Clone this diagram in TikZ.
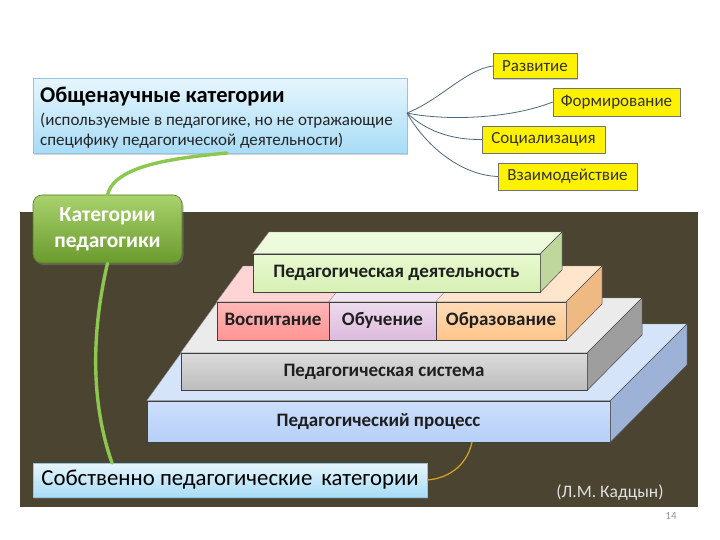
\documentclass[tikz,border=0pt]{standalone}
\usepackage{fontspec}
\setmainfont{Carlito}
\usetikzlibrary{shadows}
\definecolor{bgdark}{HTML}{4B4431}
\definecolor{skytop}{HTML}{E6F6FD}
\definecolor{skybot}{HTML}{A8DCF6}
\definecolor{skyline}{HTML}{94C4DE}
\definecolor{leaftop}{HTML}{A9D26C}
\definecolor{leafbot}{HTML}{6A9A2E}
\definecolor{leafline}{HTML}{8CC850}
\definecolor{fanline}{HTML}{4E687C}
\definecolor{goldline}{HTML}{D9A521}
\definecolor{procfront}{HTML}{B6D0F8}
\definecolor{procfrontt}{HTML}{CCDEFC}
\definecolor{proctop}{HTML}{D6E4FA}
\definecolor{procside}{HTML}{9DB2D6}
\definecolor{deyfront}{HTML}{D6F0B4}
\definecolor{deyfrontt}{HTML}{E8F9D0}
\definecolor{deytop}{HTML}{EEFADC}
\definecolor{deyside}{HTML}{BFD79C}
\begin{document}
\begin{tikzpicture}[x=1pt,y=-1pt,
  sky/.style={draw=skyline, line width=0.6pt, top color=skytop, bottom color=skybot,
    drop shadow={shadow xshift=1pt, shadow yshift=-1.5pt, opacity=0.35}},
  leafbox/.style={draw=leafbot!80!black, line width=0.6pt, rounded corners=9pt,
    top color=leaftop, bottom color=leafbot, text=white,
    font=\bfseries\fontsize{21.5}{28}\selectfont, align=center,
    drop shadow={shadow xshift=1.5pt, shadow yshift=-2pt, opacity=0.5}},
  yel/.style={draw=black!55, line width=0.5pt, fill=yellow, minimum height=27pt,
    inner sep=0pt, text=black!80, font=\fontsize{17}{18}\selectfont,
    drop shadow={shadow xshift=1.2pt, shadow yshift=-1.5pt, opacity=0.4}},
  fan/.style={draw=fanline, line width=0.8pt},
  leafwire/.style={draw=leafline, line width=3.4pt, line cap=round},
  front/.style={draw=black!75, line width=0.6pt, inner sep=0pt,
    text height=13pt, text depth=4pt,
    font=\bfseries\fontsize{19}{21}\selectfont, text=black!88},
  facetop/.style={fill=#1, draw=black!45, line width=0.4pt, line join=round},
  faceside/.style={fill=#1, draw=black!70, line width=0.5pt, line join=round}
]
\useasboundingbox (0,0) rectangle (720,540);
\fill[white] (0,0) rectangle (720,540);
% dark panel
\fill[bgdark] (20,212) rectangle (698,507);

% ---------- pyramid: process ----------
\node[front, top color=procfrontt, bottom color=procfront,
  minimum width=463pt, minimum height=41pt] (proc) at (378.5,421.5) {Педагогический процесс};
\path[facetop=proctop] (proc.north west) -- (proc.north east) -- (687,324) -- (202,324) -- cycle;
\path[faceside=procside] (proc.north east) -- (687,324) -- (687,365) -- (proc.south east) -- cycle;

% ---------- system ----------
\node[front, top color=black!14, bottom color=black!26,
  minimum width=406pt, minimum height=37pt] (sys) at (384,371.5) {Педагогическая система};
\path[facetop={black!8}] (sys.north west) -- (sys.north east) -- (642,298) -- (220,298) -- cycle;
\path[faceside={black!38}] (sys.north east) -- (642,298) -- (642,335) -- (sys.south east) -- cycle;

% ---------- middle row ----------
\node[front, top color=red!28!white, bottom color=red!42!white,
  minimum width=112pt, minimum height=38pt] (vosp) at (273,321) {Воспитание};
\node[front, top color=violet!14!white, bottom color=violet!27!white,
  minimum width=107pt, minimum height=38pt] (obuch) at (382.5,321) {Обучение};
\node[front, top color=orange!28!white, bottom color=orange!46!white,
  minimum width=130pt, minimum height=38pt] (obraz) at (501,321) {Образование};
\path[facetop={red!17!white}] (vosp.north west) -- (vosp.north east) -- (358,266) -- (243,266) -- cycle;
\path[facetop={violet!10!white}] (obuch.north west) -- (obuch.north east) -- (468,266) -- (358,266) -- cycle;
\path[facetop={orange!20!white}] (obraz.north west) -- (obraz.north east) -- (602,266) -- (468,266) -- cycle;
\path[faceside={orange!55!brown!55!white}] (obraz.north east) -- (602,266) -- (602,304) -- (obraz.south east) -- cycle;

% ---------- activity ----------
\node[front, top color=deyfrontt, bottom color=deyfront,
  minimum width=287pt, minimum height=38pt] (deyat) at (396.5,273) {Педагогическая деятельность};
\path[facetop=deytop] (deyat.north west) -- (deyat.north east) -- (562,232) -- (269,232) -- cycle;
\path[faceside=deyside] (deyat.north east) -- (562,232) -- (562,270) -- (deyat.south east) -- cycle;

% ---------- general categories ----------
\node[sky, anchor=north west, minimum width=374pt, minimum height=75pt, inner sep=0pt] (gen) at (33,78) {};
\node[anchor=base west, inner sep=0pt, font=\bfseries\fontsize{22.5}{24}\selectfont] (gentitle) at (40,103) {Общенаучные категории};
\node[anchor=base west, inner sep=0pt, text=black!85, font=\fontsize{17}{19}\selectfont] (gensub1) at (40,126) {(используемые в педагогике, но не отражающие};
\node[anchor=base west, inner sep=0pt, text=black!85, font=\fontsize{17}{19}\selectfont] (gensub2) at (40,146) {специфику педагогической деятельности)};

\node[leafbox, minimum width=149pt, minimum height=68pt, inner sep=0pt] (kat) at (107.5,229)
  {Категории\\[-2pt]педагогики};

\node[sky, minimum width=394pt, minimum height=34pt, inner sep=0pt,
  font=\fontsize{22.8}{24}\selectfont] (sob) at (230,480)
  {Собственно педагогические\, категории};

% yellow boxes
\node[yel, minimum width=84pt, minimum height=25pt] (razv) at (535,66) {Развитие};
\node[yel, minimum width=127pt, minimum height=28pt] (form) at (616.5,102) {Формирование};
\node[yel, minimum width=123pt] (soc) at (543.5,139.5) {Социализация};
\node[yel, minimum width=139pt] (vzai) at (567.5,176.5) {Взаимодействие};

% fan connectors
\coordinate (fanroot) at (407,113);
\draw[fan] (fanroot) .. controls (440,100) and (465,70) .. (razv.west);
\draw[fan] (fanroot) .. controls (445,121) and (510,119) .. (form.west);
\draw[fan] (fanroot) .. controls (425,130) and (450,140) .. (soc.west);
\draw[fan] (fanroot) .. controls (425,145) and (460,175) .. (vzai.west);

% green connectors
\coordinate (genfoot) at (227,153);
\draw[leafwire] (genfoot) .. controls (175,158) and (115,165) .. (kat.north);
\coordinate (sobtop) at (112,463);
\draw[leafwire] (kat.south) .. controls (92,330) and (90,400) .. (sobtop);

% gold connector
\coordinate (procfoot) at (472,442);
\draw[goldline, line width=1.2pt] (sob.east) .. controls (452,478) and (468,462) .. (procfoot);

% credits
\node[text=black!12, font=\fontsize{17.5}{19}\selectfont] (auth) at (610,493) {(Л.М. Кадцын)};
\node[text=black!40, font=\fontsize{11}{12}\selectfont] (pg) at (671,516) {14};
\end{tikzpicture}
\end{document}
